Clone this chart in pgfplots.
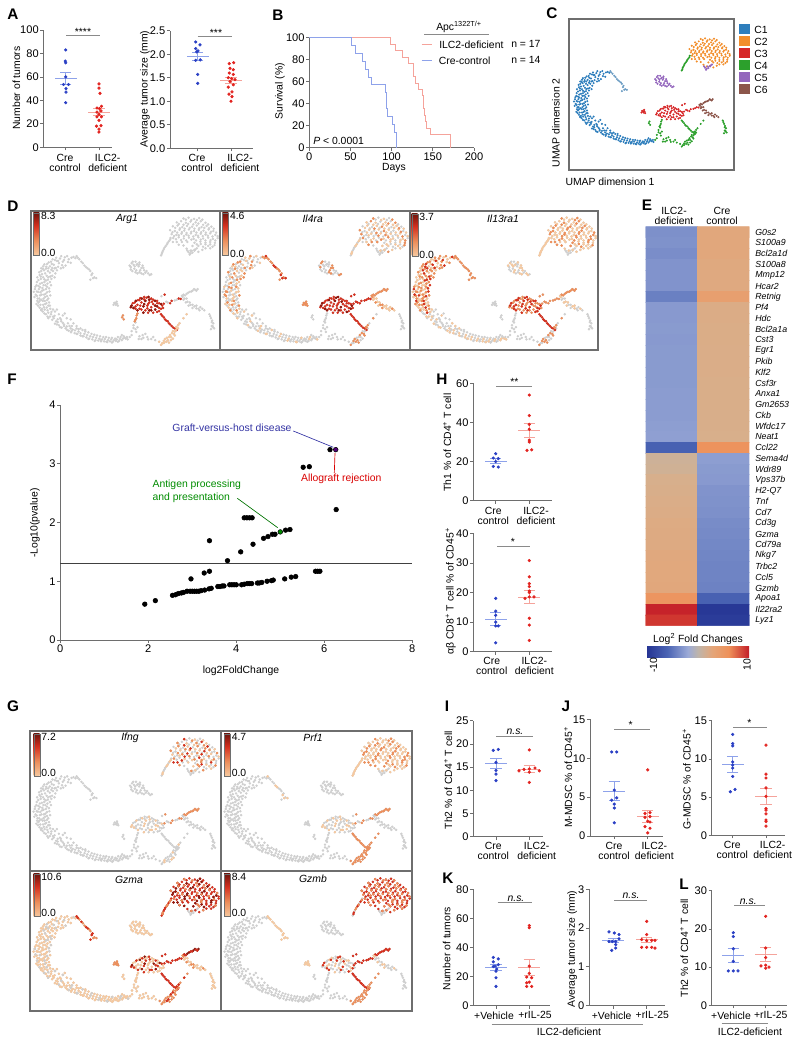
\documentclass[border=0pt]{standalone}
\usepackage{fontspec}
\setmainfont{Liberation Sans}
\usepackage{pgfplots}
\usepackage{pgfplotstable}
\pgfplotsset{compat=1.18}

\definecolor{axg}{HTML}{6E6E6E}
\definecolor{dotb}{HTML}{2A3FC4}
\definecolor{dotr}{HTML}{E2231F}
\definecolor{seb}{HTML}{8EA2EA}
\definecolor{ser}{HTML}{F5A39B}
\definecolor{sigg}{HTML}{8A8A8A}
\definecolor{ugrey}{HTML}{CFCFCF}
\definecolor{utan}{HTML}{F6C9A0}
\definecolor{uor}{HTML}{EC8F5C}
\definecolor{ured}{HTML}{D4301F}
\definecolor{udark}{HTML}{8E1A10}
\definecolor{cA}{HTML}{2E7EBC}
\definecolor{cB}{HTML}{F28E2B}
\definecolor{cC}{HTML}{D62728}
\definecolor{cD}{HTML}{2CA02C}
\definecolor{cE}{HTML}{9467BD}
\definecolor{cF}{HTML}{8C564B}
\definecolor{hm0}{RGB}{38,53,148}
\definecolor{hm1}{RGB}{75,100,180}
\definecolor{hm2}{RGB}{155,170,215}
\definecolor{hm3}{RGB}{190,180,170}
\definecolor{hm4}{RGB}{228,165,120}
\definecolor{hm5}{RGB}{238,145,90}
\definecolor{hm6}{RGB}{195,30,40}

\pgfdeclarehorizontalshading{hmbar}{100bp}{color(0bp)=(hm0);color(25bp)=(hm0);color(35bp)=(hm1);color(45bp)=(hm2);color(50bp)=(hm3);color(57bp)=(hm4);color(65bp)=(hm5);color(75bp)=(hm6);color(100bp)=(hm6)}
\pgfdeclareverticalshading{gbar}{100bp}{color(0bp)=(utan);color(25bp)=(utan);color(42bp)=(uor);color(60bp)=(ured);color(75bp)=(udark!80!black);color(100bp)=(udark)}

\newcommand\lbl{\fontsize{7.8}{7.6}\selectfont}
\newcommand\tk{\fontsize{8.3}{9}\selectfont}

% UMAP cells, read in panel C (zoomed pixel positions)
\pgfplotstableread[row sep=\\]{x y\\
982 216\\970 222\\975 231\\960 217\\955 228\\962 238\\948 220\\945 232\\950 245\\935 224\\932 236\\940 250\\925 228\\922 240\\930 252\\915 234\\912 246\\922 256\\905 240\\900 252\\910 258\\918 268\\928 264\\896 262\\905 268\\912 276\\922 280\\893 275\\902 282\\911 288\\920 296\\888 288\\897 293\\906 300\\915 306\\884 298\\892 305\\901 312\\910 318\\918 322\\886 312\\895 322\\904 328\\913 334\\922 340\\890 328\\898 338\\907 344\\916 352\\926 356\\
940 226\\968 229\\953 237\\928 244\\917 252\\907 250\\936 258\\899 272\\916 284\\908 280\\926 272\\893 290\\902 302\\911 310\\889 304\\897 314\\906 322\\915 326\\893 332\\902 348\\910 336\\920 332\\
987 219\\977 218\\966 214\\958 224\\951 214\\943 226\\938 218\\929 222\\937 244\\943 241\\956 243\\927 234\\919 230\\918 245\\926 249\\934 245\\908 235\\904 246\\913 241\\900 245\\895 255\\902 260\\914 264\\923 266\\934 268\\890 268\\899 266\\908 273\\917 274\\889 280\\897 284\\906 288\\915 292\\925 288\\885 292\\894 298\\903 295\\912 298\\921 304\\881 305\\889 315\\898 306\\907 312\\915 316\\923 314\\883 318\\891 322\\900 325\\909 328\\918 340\\888 336\\896 328\\905 338\\914 345\\923 348\\892 340\\900 352\\909 350\\918 358\\930 350\\
}\tArcT
\pgfplotstableread[row sep=\\]{x y\\
896 345\\904 355\\912 362\\922 368\\934 366\\918 372\\928 376\\938 380\\948 372\\935 386\\945 390\\955 384\\952 396\\962 398\\972 392\\970 404\\980 401\\990 398\\985 410\\995 406\\1005 402\\1000 416\\1010 412\\1020 408\\1015 421\\1025 418\\1035 414\\1030 426\\1040 422\\1050 418\\1045 429\\1055 426\\1065 420\\1060 431\\1070 428\\1080 422\\1075 431\\1085 428\\1095 420\\1090 430\\1100 425\\1110 418\\1115 424\\1105 415\\
940 350\\955 365\\975 375\\960 360\\990 392\\968 385\\978 392\\930 368\\942 382\\958 392\\976 408\\992 412\\1008 418\\1022 424\\1038 428\\1052 431\\1068 433\\1082 432\\1098 430\\1108 424\\
900 350\\908 360\\916 368\\925 362\\932 372\\942 375\\951 380\\940 388\\948 395\\958 388\\965 393\\975 398\\966 402\\977 405\\986 403\\995 400\\990 412\\1000 410\\1012 406\\1005 418\\1017 415\\1028 412\\1020 425\\1032 420\\1042 416\\1036 430\\1048 424\\1058 420\\1052 428\\1062 425\\1072 422\\1066 432\\1078 426\\1088 424\\1080 434\\1092 426\\1102 420\\1095 432\\1105 428\\1112 421\\1118 420\\1120 426\\950 375\\965 372\\982 385\\945 362\\935 355\\1000 398\\1012 402\\
}\tArcB
\pgfplotstableread[row sep=\\]{x y\\
990 214\\997 222\\1002 228\\1010 238\\1018 245\\1025 252\\1028 262\\1035 268\\1025 274\\1040 270\\993 218\\1006 232\\1014 242\\1022 248\\1030 258\\1032 270\\
}\tArcE
\pgfplotstableread[row sep=\\]{x y\\
1262 118\\1275 116\\1289 119\\1302 117\\1245 128\\1256 125\\1268 129\\1280 126\\1293 128\\1306 125\\1318 129\\1235 138\\1247 136\\1259 140\\1271 137\\1284 139\\1296 136\\1308 140\\1321 137\\1333 139\\1228 148\\1240 150\\1252 147\\1264 149\\1276 146\\1289 150\\1301 147\\1313 149\\1326 146\\1338 150\\1232 158\\1244 160\\1257 157\\1269 159\\1281 156\\1293 160\\1306 157\\1318 159\\1330 156\\1343 160\\1236 168\\1250 166\\1263 169\\1276 167\\1288 170\\1300 166\\1312 169\\1325 167\\1337 170\\1349 168\\1272 178\\1290 180\\1305 177\\1318 180\\1330 178\\1342 180\\1300 188\\1312 190\\1325 188\\1336 190\\1250 185\\1270 195\\1290 198\\1235 178\\1310 198\\1258 178\\1285 188\\
1268 121\\1282 122\\1296 122\\1310 121\\1250 132\\1262 134\\1274 132\\1287 133\\1300 131\\1312 134\\1325 133\\1241 142\\1253 143\\1265 144\\1278 142\\1290 144\\1302 143\\1315 142\\1327 143\\1339 144\\1234 153\\1246 154\\1258 153\\1270 155\\1282 152\\1295 154\\1307 153\\1319 154\\1332 152\\1345 154\\1238 163\\1250 161\\1263 163\\1275 162\\1287 164\\1299 162\\1311 163\\1324 162\\1336 164\\1349 163\\1243 171\\1256 173\\1269 174\\1282 172\\1294 174\\1306 172\\1318 174\\1331 173\\1343 174\\1296 184\\1306 183\\1318 184\\1330 184\\1341 186\\1318 194\\1330 194\\1262 187\\1280 200\\1300 203\\1245 178\\
}\tBlob
\pgfplotstableread[row sep=\\]{x y\\
1228 172\\1222 180\\1217 188\\1212 196\\1208 204\\1205 212\\1220 184\\1210 200\\1225 176\\1214 192\\1207 208\\1229 168\\
}\tTail
\pgfplotstableread[row sep=\\]{x y\\
1272 200\\1280 207\\1290 200\\1296 194\\1285 205\\1278 210\\1275 204\\1283 200\\1292 197\\
}\tPur
\pgfplotstableread[row sep=\\]{x y\\
1130 232\\1140 228\\1150 230\\1128 242\\1138 240\\1148 240\\1158 238\\1132 252\\1142 250\\1152 250\\1162 250\\1145 258\\1155 258\\1165 256\\1172 258\\1180 260\\1135 236\\1145 234\\1155 244\\1137 246\\1125 238\\1133 228\\1143 236\\1150 235\\1160 244\\1168 252\\1140 255\\1150 255\\1160 260\\1128 248\\1176 262\\
}\tLeaf
\pgfplotstableread[row sep=\\]{x y\\
1130 340\\1138 332\\1146 326\\1156 322\\1168 320\\1180 322\\1190 328\\1200 334\\1208 340\\1135 346\\1145 338\\1155 332\\1165 328\\1175 332\\1185 336\\1195 342\\1205 348\\1150 348\\1160 342\\1170 340\\1180 344\\1190 350\\1200 354\\1165 352\\1175 352\\1185 358\\1140 342\\1128 344\\1150 326\\1162 324\\1175 325\\1195 334\\
1133 334\\1141 328\\1152 321\\1162 318\\1173 318\\1185 325\\1195 328\\1205 336\\1140 348\\1152 340\\1162 336\\1172 336\\1182 330\\1190 340\\1200 346\\1210 346\\1145 352\\1155 350\\1170 347\\1180 352\\1195 356\\1172 358\\1160 358\\
}\tRed
\pgfplotstableread[row sep=\\]{x y\\
1086 333\\1092 330\\1090 338\\1095 340\\1084 338\\1089 334\\1093 335\\
}\tSpot
\pgfplotstableread[row sep=\\]{x y\\
1145 360\\1142 372\\1138 380\\1106 370\\1110 375\\1143 365\\1140 376\\1108 365\\
}\tStrk
\pgfplotstableread[row sep=\\]{x y\\
1212 335\\1222 332\\1232 328\\1245 325\\1255 323\\1206 316\\1214 312\\1218 330\\1228 334\\1240 327\\1250 322\\
}\tThr
\pgfplotstableread[row sep=\\]{x y\\
1205 362\\1212 370\\1218 378\\1225 385\\1232 392\\1240 398\\1245 402\\1208 366\\1222 380\\1215 375\\1228 388\\1236 396\\
}\tDiag
\pgfplotstableread[row sep=\\]{x y\\
1248 390\\1243 402\\1238 412\\1230 420\\1222 428\\1212 435\\1205 440\\1235 405\\1228 415\\1220 422\\1212 430\\1200 432\\1243 395\\1252 385\\1225 434\\1235 424\\1262 372\\1270 362\\1245 396\\1240 406\\1233 410\\1225 420\\1215 425\\1208 436\\1218 432\\1230 428\\1240 416\\1248 398\\
}\tClus
\pgfplotstableread[row sep=\\]{x y\\
1130 405\\1140 400\\1150 418\\1160 422\\1170 420\\1180 425\\1145 395\\1135 390\\1140 383\\1125 420\\1190 428\\1165 412\\1155 425\\1135 397\\1142 407\\1158 415\\1172 426\\1185 420\\1148 425\\1130 415\\
}\tMid
\pgfplotstableread[row sep=\\]{x y\\
1258 315\\1265 322\\1272 330\\1280 338\\1290 342\\1300 348\\1310 348\\1262 325\\1275 340\\1285 346\\1295 340\\1315 352\\1268 332\\1270 322\\1278 332\\1285 338\\1295 347\\1305 344\\1260 318\\1303 352\\
}\tBrown
\pgfplotstableread[row sep=\\]{x y\\
1262 312\\1270 310\\1278 305\\1285 302\\1292 300\\1298 298\\1266 314\\1274 307\\1282 304\\1289 298\\1295 302\\
}\tTop
\pgfplotstableread[row sep=\\]{x y\\
1328 362\\1332 372\\1334 382\\1336 392\\1340 398\\1332 400\\1338 385\\1330 367\\1335 378\\1337 395\\1334 392\\
}\tEnd

\newcommand\ums{0.72pt}
\newcommand\ly[3]{\addplot[only marks,mark=*,mark size=\ums,color=#2,mark options={draw=none,fill=#2},unbounded coords=discard,filter discard warning=false,each nth point=#3] table {#1};}
\newcommand\allg{\ly{\tArcT}{ugrey}{1}\ly{\tArcB}{ugrey}{1}\ly{\tArcE}{ugrey}{1}\ly{\tBlob}{ugrey}{1}\ly{\tTail}{ugrey}{1}\ly{\tPur}{ugrey}{1}\ly{\tLeaf}{ugrey}{1}\ly{\tRed}{ugrey}{1}\ly{\tSpot}{ugrey}{1}\ly{\tStrk}{ugrey}{1}\ly{\tThr}{ugrey}{1}\ly{\tDiag}{ugrey}{1}\ly{\tClus}{ugrey}{1}\ly{\tMid}{ugrey}{1}\ly{\tBrown}{ugrey}{1}\ly{\tTop}{ugrey}{1}\ly{\tEnd}{ugrey}{1}}

\pgfplotsset{
  pxbox/.code n args={4}{%
    \pgfmathsetmacro\pxw{(#3-#1)*0.75}\pgfmathsetmacro\pxh{(#4-#2)*0.75}%
    \pgfmathsetmacro\pxa{#1*0.75}\pgfmathsetmacro\pxb{(1042-#4)*0.75}%
    \pgfplotsset{scale only axis,width=\pxw pt,height=\pxh pt,at={(\pxa pt,\pxb pt)},anchor=south west}},
  umapax/.style={ticks=none,y dir=reverse,axis line style={color=axg,line width=0.8pt}},
  dotax/.style={axis lines*=left,clip=false,tick align=outside,major tick length=2.4pt,
    axis line style={color=axg,line width=0.55pt},tick style={color=axg,line width=0.55pt},
    ymin=0,xticklabels={,,},
    yticklabel style={font=\tk,inner sep=1pt,/pgf/number format/assume math mode=true},
    xticklabel style={font=\tk,inner sep=1pt,/pgf/number format/assume math mode=true}},
}
\newcommand\umD[5]{\begin{axis}[pxbox={#1}{#2}{#3}{#4},umapax,xmin=874,xmax=1355,ymin=99,ymax=453]\allg #5\end{axis}}
\newcommand\umG[5]{\begin{axis}[pxbox={#1}{#2}{#3}{#4},umapax,xmin=872,xmax=1355,ymin=97,ymax=458]\allg #5\end{axis}}
\newcommand\bpts[1]{\addplot[only marks,mark=*,mark size=1pt,color=dotb,mark options={draw=none,fill=dotb}] coordinates {#1};}
\newcommand\rpts[1]{\addplot[only marks,mark=*,mark size=1pt,color=dotr,mark options={draw=none,fill=dotr}] coordinates {#1};}
\newcommand\mse[4]{%
  \addplot[no markers,draw=none,error bars/.cd,x dir=both,x explicit,error mark=none,error bar style={draw=#1,line width=0.5pt}] coordinates {(#2,#3) +- (11,0)};
  \addplot[no markers,draw=none,error bars/.cd,y dir=both,y explicit,error mark=|,error bar style={draw=#1,line width=0.5pt},error mark options={draw=#1,line width=0.5pt,mark size=4.2pt}] coordinates {(#2,#3) +- (0,#4)};}
\newcommand\two[4]{\node[align=center,font=\lbl,inner sep=0] at (#1,#2) {#3\\#4};}
\newcommand\txt[3]{\node[font=\lbl,inner sep=0] at (#1,#2) {#3};}
\newcommand\ltxt[3]{\node[font=\lbl,inner sep=0,anchor=west] at (#1,#2) {#3};}
\newcommand\ylab[3]{\node[font=\lbl,inner sep=0,rotate=90] at (#1,#2) {#3};}
\newcommand\plet[3]{\node[font=\fontsize{11.5}{12}\selectfont\bfseries,inner sep=0] at (#1,#2) {#3};}
\newcommand\sig[5]{\draw[sigg,line width=0.6pt] (#1,#3)--(#2,#3);\node[font=\lbl,inner sep=0] at (#4,{#3-4}) {#5};}
\newcommand\gbar[6]{\shade[shading=gbar,draw=axg,line width=0.3pt] (#1,#2) rectangle ({#1+6},#3);
  \ltxt{{#1+7.5}}{#4}{#5}\ltxt{{#1+7.5}}{#6}{0.0}}

\begin{document}
\begin{tikzpicture}
\path (0,0) rectangle (600pt,781.5pt);

% ---- A
\begin{axis}[pxbox={43.5}{30}{112}{147.3},dotax,xmin=43.5,xmax=112,ymax=100,xtick={65.7,99},ytick={0,20,40,60,80,100}]
\bpts{(65.7,83)(65.3,73.5)(65.7,72)(65.7,60)(63.5,53.5)(68.5,53.5)(66,50)(66,47)(65.7,38)}
\mse{seb}{65.7}{58.5}{5}
\rpts{(99,54)(99,50.5)(100,46)(101.5,35)(97,33.5)(99.5,33)(101,31)(97,30)(99,28)(101.5,26)(97,26)(99,23)(96.5,18)(101,18.5)(99,15.5)(99,13)}
\mse{ser}{99}{30}{3}
\end{axis}
\begin{axis}[pxbox={170}{30.7}{253}{148.3},dotax,xmin=170,xmax=253,ymax=2.5,xtick={197.7,231},ytick={0,0.5,1,1.5,2,2.5},yticklabel style={/pgf/number format/.cd,fixed,fixed zerofill,precision=1}]
\bpts{(195.7,2.26)(200,2.2)(195.7,2.12)(198,2.07)(196.7,2.05)(195.7,1.87)(200.3,1.88)(197.7,1.57)(197.7,1.38)}
\mse{seb}{197.7}{1.96}{0.09}
\rpts{(233.7,1.82)(229.3,1.8)(230,1.7)(233.3,1.67)(229.3,1.6)(233.3,1.57)(228.3,1.5)(231.7,1.48)(235,1.46)(230,1.42)(233.3,1.35)(228.3,1.3)(232,1.2)(229,1.15)(232,1.1)(231,1.0)}
\mse{ser}{231}{1.45}{0.06}
\end{axis}

% ---- B
\begin{axis}[pxbox={309.3}{37.7}{474}{147.7},dotax,xmin=0,xmax=200,ymax=100,xtick={0,50,100,150,200},ytick={0,20,40,60,80,100},xticklabels={0,50,100,150,200}]
\addplot[const plot,color=ser,line width=0.65pt] coordinates {(0,100)(99,94.1)(105,88.2)(113,82.4)(120,76.5)(126,70.6)(127,64.7)(129,58.8)(132,52.9)(137,47.1)(138,41.2)(138.5,35.3)(140,29.4)(141,23.5)(142,17.6)(147,11.8)(171,0)};
\addplot[const plot,color=seb,line width=0.65pt] coordinates {(0,100)(51,92.9)(56,85.7)(65,78.6)(68,71.4)(72,64.3)(76,57.1)(93,50)(93.5,42.9)(94,35.7)(94.5,28.6)(101,21.4)(103,14.3)(106,0)};
\end{axis}

% ---- C
\begin{axis}[pxbox={569}{19}{734}{170},umapax,xmin=866,xmax=1362,ymin=58,ymax=510]
\renewcommand\ums{0.55pt}
\ly{\tArcT}{cA}{1}\ly{\tArcB}{cA}{1}\ly{\tArcE}{cA!60!ugrey}{1}\ly{\tBlob}{cB}{1}\ly{\tTail}{cD}{1}\ly{\tPur}{cE}{1}\ly{\tLeaf}{cE}{1}\ly{\tRed}{cC}{1}\ly{\tSpot}{cC}{1}\ly{\tStrk}{cD}{1}\ly{\tThr}{cC}{1}\ly{\tDiag}{cD}{1}\ly{\tClus}{cD}{1}\ly{\tMid}{cD}{1}\ly{\tBrown}{cF}{1}\ly{\tTop}{cF}{1}\ly{\tEnd}{cD}{1}
\end{axis}

% ---- D
\umD{31}{211}{220}{350}{\ly{\tRed}{ured}{1}\ly{\tRed}{udark}{3}\ly{\tThr}{ured}{2}\ly{\tDiag}{ured}{1}\ly{\tClus}{utan}{1}\ly{\tStrk}{uor}{1}}
\umD{220}{211}{410}{350}{\ly{\tBlob}{utan}{2}\ly{\tBlob}{uor}{5}\ly{\tTail}{utan}{2}\ly{\tLeaf}{uor}{3}\ly{\tArcT}{utan}{2}\ly{\tArcT}{uor}{4}\ly{\tArcB}{utan}{5}\ly{\tArcE}{uor}{1}\ly{\tArcE}{ured}{3}\ly{\tRed}{ured}{1}\ly{\tRed}{udark}{4}\ly{\tSpot}{uor}{1}\ly{\tThr}{ured}{1}\ly{\tDiag}{ured}{1}\ly{\tClus}{uor}{2}\ly{\tBrown}{utan}{1}\ly{\tBrown}{uor}{3}\ly{\tTop}{uor}{1}}
\umD{410}{211}{598}{350}{\ly{\tBlob}{utan}{1}\ly{\tBlob}{uor}{3}\ly{\tTail}{utan}{1}\ly{\tArcT}{utan}{1}\ly{\tArcT}{uor}{2}\ly{\tArcT}{ured}{5}\ly{\tArcB}{utan}{3}\ly{\tArcE}{uor}{1}\ly{\tLeaf}{utan}{2}\ly{\tRed}{uor}{1}\ly{\tRed}{ured}{2}\ly{\tThr}{uor}{1}\ly{\tDiag}{ured}{1}\ly{\tClus}{uor}{2}\ly{\tBrown}{utan}{2}\ly{\tTop}{uor}{1}}

% ---- E
\begin{axis}[pxbox={645.7}{226.7}{749.3}{625.7},y dir=reverse,xmin=-0.5,xmax=1.5,ymin=-0.5,ymax=36.5,
  hide x axis,axis y line*=right,axis line style={draw=none},major tick length=0pt,
  ytick={0,...,36},yticklabels={G0s2,S100a9,Bcl2a1d,S100a8,Mmp12,Hcar2,Retnig,Pf4,Hdc,Bcl2a1a,Cst3,Egr1,Pkib,Klf2,Csf3r,Anxa1,Gm2653,Ckb,Wfdc17,Neat1,Ccl22,Sema4d,Wdr89,Vps37b,H2-Q7,Tnf,Cd7,Cd3g,Gzma,Cd79a,Nkg7,Trbc2,Ccl5,Gzmb,Apoa1,Il22ra2,Lyz1},
  yticklabel style={font=\fontsize{6.6}{7}\selectfont\itshape,xshift=1pt},
  colormap={hm}{rgb255(0cm)=(38,53,148) rgb255(1cm)=(50,70,160) rgb255(2cm)=(75,100,180) rgb255(3cm)=(120,140,200) rgb255(4cm)=(155,170,215) rgb255(5cm)=(190,180,170) rgb255(6cm)=(215,175,140) rgb255(7cm)=(228,165,120) rgb255(8cm)=(238,145,90) rgb255(9cm)=(220,80,55) rgb255(10cm)=(195,30,40)},
  point meta min=-10,point meta max=10]
\addplot[matrix plot*,mesh/cols=2,point meta=explicit] table[meta=c,row sep=\\] {x y c\\
0 0 -3.7\\1 0 3.6\\0 1 -3.6\\1 1 3.6\\0 2 -3.9\\1 2 3.6\\0 3 -3.5\\1 3 3.3\\0 4 -3.5\\1 4 3.2\\0 5 -3.5\\1 5 3.2\\0 6 -4.6\\1 6 4.6\\0 7 -3.1\\1 7 2.6\\0 8 -3.1\\1 8 2.6\\0 9 -3.0\\1 9 2.5\\0 10 -3.1\\1 10 2.5\\0 11 -3.0\\1 11 2.4\\0 12 -3.0\\1 12 2.4\\0 13 -3.0\\1 13 2.4\\0 14 -3.0\\1 14 2.3\\0 15 -2.9\\1 15 2.3\\0 16 -2.9\\1 16 2.3\\0 17 -2.9\\1 17 2.2\\0 18 -2.8\\1 18 2.2\\0 19 -2.7\\1 19 2.1\\0 20 -6.2\\1 20 5.8\\0 21 1.2\\1 21 -2.8\\0 22 1.4\\1 22 -3.0\\0 23 2.0\\1 23 -3.1\\0 24 2.2\\1 24 -3.5\\0 25 2.4\\1 25 -3.6\\0 26 2.6\\1 26 -3.7\\0 27 2.9\\1 27 -4.0\\0 28 3.0\\1 28 -4.1\\0 29 3.0\\1 29 -4.2\\0 30 3.4\\1 30 -4.3\\0 31 3.5\\1 31 -4.4\\0 32 3.5\\1 32 -4.4\\0 33 3.6\\1 33 -4.5\\0 34 5.6\\1 34 -6.2\\0 35 9.8\\1 35 -9.6\\0 36 9.0\\1 36 -9.2\\
};
\end{axis}

% ---- F
\begin{axis}[pxbox={60.3}{405}{412.3}{640},dotax,xmin=0,xmax=8,ymax=4,xtick={0,2,4,6,8},xticklabels={0,2,4,6,8},ytick={0,1,2,3,4}]
\addplot[black!75,line width=0.4pt] coordinates {(0,1.305)(8,1.305)};
\addplot[only marks,mark=*,mark size=1.75pt,mark options={draw=none,fill=black}] coordinates {
(1.92,.61)(2.16,.67)(2.55,.76)(2.62,.77)(2.68,.79)(2.75,.8)(2.8,.81)(2.88,.83)(2.95,.83)(3.0,.83)(3.05,.83)(3.1,.83)(3.15,.83)(3.2,.84)(3.28,.85)(3.38,.87)(3.43,.88)(3.58,.91)(3.63,.91)(3.68,.92)(3.72,.92)(3.85,.94)(3.9,.94)(3.95,.94)(4.0,.94)(4.12,.94)(4.18,.95)(4.25,.96)(4.3,.96)(4.35,.96)(4.48,.97)(4.52,.97)(4.58,.98)(4.7,1.0)(4.8,1.01)(4.84,1.02)(5.1,1.04)(5.25,1.07)(5.35,1.08)(5.8,1.17)(5.85,1.17)(5.9,1.17)
(2.97,1.04)(3.27,1.14)(3.39,1.17)(3.8,1.35)(4.1,1.5)(4.38,1.63)(4.62,1.73)(4.72,1.76)(4.82,1.8)(4.88,1.8)(5.12,1.87)(5.22,1.88)
(3.39,1.69)(4.18,2.08)(4.24,2.08)(4.3,2.08)(4.36,2.08)(6.27,2.22)(5.52,2.94)(5.66,2.95)(6.13,3.24)};
\addplot[only marks,mark=*,mark size=1.75pt,mark options={draw=none,fill=green!55!black}] coordinates {(5.0,1.84)};
\addplot[only marks,mark=*,mark size=1.75pt,mark options={draw=none,fill=blue!60!red!80!black}] coordinates {(6.26,3.24)};
\end{axis}

% ---- H
\begin{axis}[pxbox={473.3}{383.3}{551.7}{500.7},dotax,xmin=473.3,xmax=551.7,ymax=60,xtick={495.7,529.3},ytick={0,20,40,60}]
\bpts{(495.7,24)(493.3,21.8)(498.3,21.5)(495.7,20)(493.3,17.5)(498.3,17.2)}
\mse{seb}{495.7}{20.3}{1.1}
\rpts{(529.3,54)(529.3,43.5)(529.3,39)(529.3,36.5)(529.3,31)(529.3,30)(531.7,26)(527,25.7)}
\mse{ser}{529.3}{36}{3.5}
\end{axis}
\begin{axis}[pxbox={473.3}{533.3}{551.7}{651.7},dotax,xmin=473.3,xmax=551.7,ymax=40,xtick={495.7,529.3},ytick={0,10,20,30,40}]
\bpts{(495.7,18)(495.7,13.7)(495.7,12.3)(495.7,10)(495.7,8.7)(498.3,8.7)(495.7,3)}
\mse{seb}{495.7}{11.1}{2.2}
\rpts{(529.3,30.8)(529.3,25.3)(529.3,23)(529.3,22)(529.3,20.5)(529.3,20)(529.3,18.5)(534,18.5)(525,18)(529.3,11.3)(529.3,9)(529.3,3.8)}
\mse{ser}{529.3}{18.5}{2.2}
\end{axis}

% ---- G
\umG{30}{731}{221}{871}{\ly{\tBlob}{utan}{2}\ly{\tBlob}{uor}{4}\ly{\tBlob}{ured}{9}\ly{\tTail}{utan}{2}\ly{\tRed}{utan}{3}\ly{\tThr}{uor}{2}\ly{\tTop}{uor}{1}\ly{\tClus}{utan}{5}}
\umG{221}{731}{412}{871}{\ly{\tBlob}{utan}{1}\ly{\tBlob}{uor}{3}\ly{\tTail}{utan}{1}\ly{\tRed}{utan}{3}\ly{\tThr}{uor}{2}\ly{\tDiag}{uor}{1}\ly{\tClus}{uor}{1}\ly{\tTop}{uor}{1}\ly{\tArcE}{utan}{3}}
\umG{30}{871}{221}{1011}{\ly{\tArcT}{utan}{1}\ly{\tArcT}{ugrey}{5}\ly{\tArcB}{utan}{1}\ly{\tArcB}{ugrey}{5}\ly{\tArcE}{uor}{1}\ly{\tArcE}{ured}{2}\ly{\tBlob}{ured}{1}\ly{\tBlob}{udark}{3}\ly{\tBlob}{uor}{4}\ly{\tTail}{ured}{1}\ly{\tTail}{uor}{2}\ly{\tLeaf}{utan}{1}\ly{\tRed}{utan}{1}\ly{\tRed}{ured}{3}\ly{\tRed}{udark}{7}\ly{\tSpot}{uor}{1}\ly{\tThr}{ured}{1}\ly{\tDiag}{ured}{1}\ly{\tClus}{uor}{1}\ly{\tClus}{ured}{4}\ly{\tMid}{utan}{1}\ly{\tBrown}{utan}{1}\ly{\tBrown}{uor}{3}\ly{\tTop}{udark}{1}\ly{\tTop}{ured}{2}\ly{\tEnd}{utan}{1}\ly{\tStrk}{utan}{1}}
\umG{221}{871}{412}{1011}{\ly{\tBlob}{ured}{1}\ly{\tBlob}{uor}{2}\ly{\tTail}{ured}{2}\ly{\tTail}{uor}{3}\ly{\tRed}{utan}{2}\ly{\tRed}{ured}{4}\ly{\tThr}{ured}{1}\ly{\tDiag}{ured}{1}\ly{\tClus}{uor}{1}\ly{\tTop}{ured}{1}\ly{\tBrown}{utan}{3}\ly{\tArcE}{utan}{1}\ly{\tSpot}{utan}{1}}

% ---- I
\begin{axis}[pxbox={473.3}{720.7}{543.3}{836.7},dotax,xmin=473.3,xmax=543.3,ymax=25,xtick={496,529.3},ytick={0,5,10,15,20,25}]
\bpts{(498.3,18.8)(493.3,18.6)(496,16)(496,14.3)(496,13.5)(496,12.1)}
\mse{seb}{496}{15.8}{1.1}
\rpts{(529.3,18.7)(535,14.8)(524,14.5)(529.3,14.6)(519,14.2)(539.3,14.2)(529.3,13.9)(529.3,11.7)}
\mse{ser}{529.3}{14.6}{0.7}
\end{axis}

% ---- J
\begin{axis}[pxbox={590}{719.3}{663.3}{836},dotax,xmin=590,xmax=663.3,ymax=15,xtick={614.3,647.7},ytick={0,5,10,15}]
\bpts{(611.7,10.8)(616.7,10.8)(614.3,5.9)(616.7,4.9)(611.7,4.6)(614.3,4.1)(614.3,3.6)(614.3,1.7)}
\mse{seb}{614.3}{5.8}{1.2}
\rpts{(647.7,8.5)(650,3.0)(645,2.9)(650,2.5)(645,2.4)(647.7,1.9)(650,1.8)(645,1.2)(650,1.0)(647.7,0.4)}
\mse{ser}{647.7}{2.5}{0.75}
\end{axis}
\begin{axis}[pxbox={711.7}{720.7}{785}{835.3},dotax,xmin=711.7,xmax=785,ymax=15,xtick={732.7,766},ytick={0,5,10,15}]
\bpts{(732.7,13.2)(732.7,12)(732.7,11.7)(732.7,9.6)(732.7,9.2)(732.7,8.8)(732.7,7.7)(735,6)(730.3,5.7)}
\mse{seb}{732.7}{9.3}{1}
\rpts{(766,11.8)(766,8)(766,7.5)(766,6.2)(766,5.1)(766,3.5)(766,3.3)(766,2.8)(766,2.0)(766,1.8)(766,1.2)}
\mse{ser}{766}{5.1}{1.1}
\end{axis}

% ---- K
\begin{axis}[pxbox={473.3}{889.3}{550}{1005.3},dotax,xmin=473.3,xmax=550,ymax=80,xtick={496,529.3},ytick={0,20,40,60,80}]
\bpts{(493.3,33)(498.3,32)(493.3,30)(498.3,28)(495,27)(493.3,26.7)(496.7,25)(496,23.5)(496,19)(496,13)}
\mse{seb}{496}{26}{2}
\rpts{(529.3,55)(529.3,53.5)(529.3,27)(529.3,22)(526.7,19.5)(531.7,19)(529.3,16)(526.7,15.5)(526.7,13)(531.7,13)}
\mse{ser}{529.3}{26.5}{5.5}
\end{axis}
\begin{axis}[pxbox={589}{889.3}{665}{1005.3},dotax,xmin=589,xmax=665,ymax=3,xtick={613.3,646.7},ytick={0,1,2,3}]
\bpts{(609,1.9)(614.3,1.87)(619,1.83)(612.3,1.65)(615.7,1.65)(609,1.65)(619,1.72)(615.7,1.57)(611.7,1.42)(615.7,1.48)}
\mse{seb}{613.3}{1.68}{0.06}
\rpts{(646.7,2.17)(646.7,1.83)(641.7,1.7)(651.7,1.68)(646.7,1.67)(655,1.68)(641.7,1.5)(646.7,1.5)(651.7,1.5)(655,1.48)}
\mse{ser}{646.7}{1.7}{0.06}
\end{axis}

% ---- L
\begin{axis}[pxbox={711.7}{890.7}{786.7}{1005.3},dotax,xmin=711.7,xmax=786.7,ymax=30,xtick={733.3,765.7},ytick={0,10,20,30}]
\bpts{(733.3,19)(733.3,18)(733.3,14.8)(733.3,11.5)(728.3,9)(733.3,9)(738,9)}
\mse{seb}{733.3}{13}{1.8}
\rpts{(765.7,23.3)(765.7,15)(765.7,12.5)(765.7,10.5)(761,10.3)(769,10)(765.7,9.7)}
\mse{ser}{765.7}{13.3}{1.9}
\end{axis}

% ---- text and furniture, positions in image pixels
\begin{scope}[x=0.75pt,y=-0.75pt,yshift=781.5pt]
\plet{13}{14}{A}\plet{278}{15}{B}\plet{552}{13}{C}\plet{13}{206}{D}\plet{647}{205}{E}\plet{12}{379}{F}\plet{13}{706}{G}\plet{442}{379}{H}\plet{447}{706}{I}\plet{566}{706}{J}\plet{448}{878}{K}\plet{684}{884}{L}

% A
\ylab{16.5}{88}{Number of tumors}\ylab{145}{89}{Average tumor size (mm)}
\sig{66}{100}{35.7}{83}{****}\sig{197.7}{231.7}{36.7}{216}{***}
\two{65}{163}{Cre}{control}\two{107.7}{163}{ILC2-}{deficient}
\two{197}{163}{Cre}{control}\two{240}{163}{ILC2-}{deficient}

% B
\ylab{280}{91}{Survival (\%)}\txt{394}{168}{Days}
\txt{459}{27}{Apc\textsuperscript{1322T/+}}
\draw[sigg,line width=0.6pt] (424,34)--(489,34);
\draw[ser,line width=0.8pt] (421.7,44.3)--(431.7,44.3);\draw[seb,line width=0.8pt] (421.7,60.3)--(431.7,60.3);
\ltxt{439}{44.3}{ILC2-deficient}\ltxt{511}{44.3}{n = 17}\ltxt{438.7}{60.3}{Cre-control}\ltxt{511}{60.3}{n = 14}
\ltxt{313}{141}{\textit{P} < 0.0001}

% C
\ylab{556}{123}{UMAP dimension 2}\txt{610}{182}{UMAP dimension 1}
\foreach \yy/\cc/\nn in {29.5/cA/C1,41.5/cB/C2,53.5/cC/C3,65.5/cD/C4,77.5/cE/C5,89.5/cF/C6}{
  \fill[\cc] (739,\yy-5) rectangle (750,\yy+5);\ltxt{754}{\yy}{\nn}}

% D
\node[font=\lbl\itshape,inner sep=0] at (127,219) {Arg1};
\node[font=\lbl\itshape,inner sep=0] at (312.7,219) {Il4ra};
\node[font=\lbl\itshape,inner sep=0] at (503,219) {Il13ra1};
\gbar{33.3}{213}{255}{215.5}{8.3}{253}
\gbar{222.3}{213}{255}{216}{4.6}{254}
\gbar{411.7}{214}{256}{216.7}{3.7}{255}

% E
\two{674}{216}{ILC2-}{deficient}\two{722}{216}{Cre}{control}
\txt{698}{639}{Log\textsuperscript{2} Fold Changes}
\shade[shading=hmbar] (647,646.7) rectangle (749,657.3);
\ylab{653.5}{665}{-10}\ylab{747}{665}{10}

% F
\ylab{35}{523}{-Log10(pvalue)}\txt{241}{671}{log2FoldChange}
\node[font=\lbl,inner sep=0,text=blue!55!black!80] at (232,428) {Graft-versus-host disease};
\draw[blue!55!black!80,line width=0.5pt] (293.3,431)--(333.3,447.3);
\node[font=\lbl,inner sep=0,text=red!85!black] at (341.3,479) {Allograft rejection};
\draw[red!85!black,line width=0.5pt] (335,453)--(334.3,473);
\node[font=\lbl,inner sep=0,text=green!55!black,anchor=west] at (152.3,485) {Antigen processing};
\node[font=\lbl,inner sep=0,text=green!55!black,anchor=west] at (152.3,497.7) {and presentation};
\draw[green!45!black,line width=0.5pt] (237.3,498.3)--(277.7,527.7);

% H
\ylab{447.3}{442.5}{Th1 \% of CD4\textsuperscript{+} T cell}
\sig{496.3}{531.7}{386}{514.3}{**}
\two{493.3}{515.5}{Cre}{control}\two{536}{515.5}{ILC2-}{deficient}
\ylab{450.7}{591.3}{αβ CD8\textsuperscript{+} T cell \% of CD45\textsuperscript{+}}
\sig{497.3}{530}{546}{513}{*}
\two{491.7}{666}{Cre}{control}\two{534.3}{666}{ILC2-}{deficient}

% G
\node[font=\lbl\itshape,inner sep=0] at (130,738) {Ifng};
\node[font=\lbl\itshape,inner sep=0] at (313,738) {Prf1};
\node[font=\lbl\itshape,inner sep=0] at (129,880) {Gzma};
\node[font=\lbl\itshape,inner sep=0] at (313,879) {Gzmb};
\gbar{33.7}{734}{776}{736.7}{7.2}{772.7}
\gbar{224}{734}{776}{736.7}{4.7}{772.7}
\gbar{33.7}{874}{916.7}{877}{10.6}{913}
\gbar{224}{874}{916.7}{877}{8.4}{913}

% I, J
\ylab{448.3}{780.3}{Th2 \% of CD4\textsuperscript{+} T cell}
\sig{496}{533.3}{736}{515}{\textit{n.s.}}
\two{493.3}{851.3}{Cre}{control}\two{536.7}{851.3}{ILC2-}{deficient}
\ylab{568.3}{777.5}{M-MDSC \% of CD45\textsuperscript{+}}
\sig{614.3}{650}{729.3}{630.7}{*}
\two{614}{850.7}{Cre}{control}\two{654.3}{850.7}{ILC2-}{deficient}
\ylab{686.7}{779.2}{G-MDSC \% of CD45\textsuperscript{+}}
\sig{733.3}{766.7}{727.3}{749.3}{*}
\two{732.3}{850}{Cre}{control}\two{772.7}{850}{ILC2-}{deficient}

% K, L
\ylab{446.7}{948.8}{Number of tumors}
\sig{497.7}{532.3}{902.7}{516}{\textit{n.s.}}
\txt{494}{1015.3}{+Vehicle}\txt{535}{1015.3}{+rIL-25}
\draw[sigg,line width=0.6pt] (491.7,1024)--(643.3,1024);\txt{569}{1031.3}{ILC2-deficient}
\ylab{572.3}{949}{Average tumor size (mm)}
\sig{614}{647.3}{900}{631}{\textit{n.s.}}
\txt{611.7}{1015.3}{+Vehicle}\txt{652.3}{1015.3}{+rIL-25}
\ylab{684.3}{948.3}{Th2 \% of CD4\textsuperscript{+} T cell}
\sig{734}{765}{905.7}{748.3}{\textit{n.s.}}
\txt{731}{1015.3}{+Vehicle}\txt{770.7}{1015.3}{+rIL-25}
\draw[sigg,line width=0.6pt] (721.7,1023)--(768.3,1023);\txt{750}{1031.3}{ILC2-deficient}
\end{scope}
\end{tikzpicture}
\end{document}
